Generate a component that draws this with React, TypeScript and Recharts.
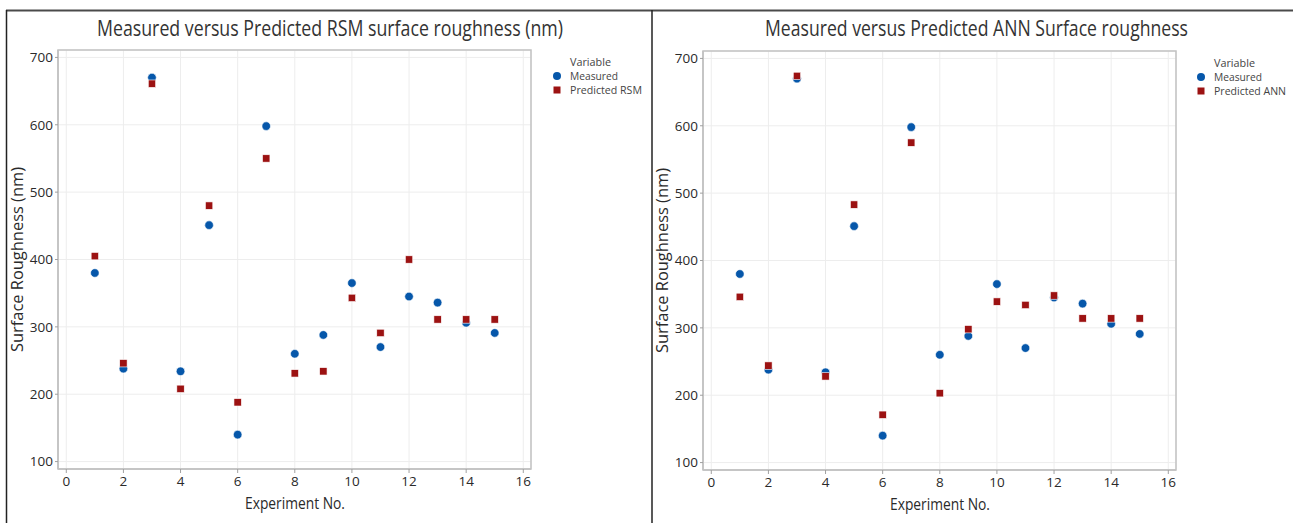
import React from 'react';
import {
  ScatterChart,
  Scatter,
  XAxis,
  YAxis,
  CartesianGrid,
  ReferenceArea,
  Legend,
  Label,
} from 'recharts';

const experiments = [1, 2, 3, 4, 5, 6, 7, 8, 9, 10, 11, 12, 13, 14, 15];
const measured = [380, 238, 670, 234, 451, 140, 598, 260, 288, 365, 270, 345, 336, 306, 291];
const predictedRSM = [405, 246, 661, 208, 480, 188, 550, 231, 234, 343, 291, 400, 311, 311, 311];
const predictedANN = [346, 244, 674, 228, 483, 171, 575, 203, 298, 339, 334, 348, 314, 314, 314];

const xTicks = [0, 2, 4, 6, 8, 10, 12, 14, 16];
const yTicks = [100, 200, 300, 400, 500, 600, 700];

const titleRSM = 'Measured versus Predicted RSM surface roughness (nm)';
const titleANN = 'Measured versus Predicted ANN Surface roughness';
const xTitle = 'Experiment No.';
const yTitle = 'Surface Roughness (nm)';

const FONT = "'Open Sans', 'Noto Sans', sans-serif";
const BLUE = '#0657AA';
const RED = '#9C1212';
const TEXT = '#2a2a2a';

const CircleShape = (props: any) => (
  <circle cx={props.cx} cy={props.cy} r={4.3} fill={BLUE} stroke="#ffffff" strokeWidth={0.6} />
);
const SquareShape = (props: any) => (
  <rect
    x={props.cx - 3.7}
    y={props.cy - 3.7}
    width={7.4}
    height={7.4}
    fill={RED}
    stroke="#ffffff"
    strokeWidth={0.6}
  />
);

const XTitle = () => (
  <text
    x={295}
    y={509}
    textAnchor="middle"
    fontFamily={FONT}
    fontSize={16}
    fill={TEXT}
    textLength={100}
    lengthAdjust="spacingAndGlyphs"
  >
    {xTitle}
  </text>
);

const YTitle = () => (
  <text
    x={0}
    y={0}
    transform="translate(23,259.5) rotate(-90)"
    textAnchor="middle"
    fontFamily={FONT}
    fontSize={16}
    fill={TEXT}
    textLength={185}
    lengthAdjust="spacingAndGlyphs"
  >
    {yTitle}
  </text>
);

function makeLegend(predLabel: string, predWidth: number) {
  return () => (
    <svg width={96} height={48} style={{ display: 'block' }}>
      <text x={22} y={14} fontFamily={FONT} fontSize={10.5} fill="#444" textLength={41} lengthAdjust="spacingAndGlyphs">
        Variable
      </text>
      <circle cx={9} cy={24} r={4} fill={BLUE} />
      <text x={22} y={28} fontFamily={FONT} fontSize={10.5} fill="#444" textLength={48} lengthAdjust="spacingAndGlyphs">
        Measured
      </text>
      <rect x={5.5} y={34.5} width={7} height={7} fill={RED} />
      <text x={22} y={42} fontFamily={FONT} fontSize={10.5} fill="#444" textLength={predWidth} lengthAdjust="spacingAndGlyphs">
        {predLabel}
      </text>
    </svg>
  );
}

function Panel({ predicted, predLabel, predWidth, legendLeft }: any) {
  const measuredData = experiments.map((x, i) => ({ x, y: measured[i] }));
  const predictedData = experiments.map((x, i) => ({ x, y: predicted[i] }));
  return (
    <ScatterChart width={645} height={523} margin={{ top: 50, right: 114, bottom: 14, left: 8 }}>
      <CartesianGrid stroke="#ededed" />
      <XAxis
        type="number"
        dataKey="x"
        domain={[-0.29, 16.27]}
        ticks={xTicks}
        interval={0}
        allowDataOverflow
        height={40}
        tickSize={4}
        tickMargin={3}
        tick={{ fill: TEXT, fontSize: 13.5, fontFamily: FONT }}
        axisLine={{ stroke: '#c2c2c2', strokeWidth: 1.5 }}
        tickLine={{ stroke: '#a0a0a0' }}
      >
        <Label content={XTitle} />
      </XAxis>
      <YAxis
        type="number"
        dataKey="y"
        domain={[89, 711]}
        ticks={yTicks}
        interval={0}
        allowDataOverflow
        width={50}
        tickSize={3}
        tickMargin={2}
        tick={{ fill: TEXT, fontSize: 13.5, fontFamily: FONT }}
        axisLine={{ stroke: '#c2c2c2', strokeWidth: 1.5 }}
        tickLine={{ stroke: '#a0a0a0' }}
      >
        <Label content={YTitle} />
      </YAxis>
      <ReferenceArea
        x1={-0.29}
        x2={16.27}
        y1={89}
        y2={711}
        fill="none"
        fillOpacity={0}
        stroke="#c2c2c2"
        strokeWidth={1.5}
      />
      <Legend
        layout="vertical"
        align="center"
        verticalAlign="middle"
        content={makeLegend(predLabel, predWidth)}
        wrapperStyle={{ position: 'absolute', left: legendLeft, top: 52, width: 96, height: 48 }}
      />
      <Scatter name="Measured" data={measuredData} shape={CircleShape} isAnimationActive={false} />
      <Scatter name={predLabel} data={predictedData} shape={SquareShape} isAnimationActive={false} />
    </ScatterChart>
  );
}

export default function App() {
  return (
    <div
      style={{
        position: 'absolute',
        left: 0,
        top: 0,
        width: 1293,
        height: 523,
        background: '#ffffff',
        overflow: 'hidden',
      }}
    >
      <div style={{ position: 'absolute', left: 0, top: 0 }}>
        <Panel predicted={predictedRSM} predLabel="Predicted RSM" predWidth={72} legendLeft={548} />
      </div>
      <div style={{ position: 'absolute', left: 645, top: 1 }}>
        <Panel predicted={predictedANN} predLabel="Predicted ANN" predWidth={72} legendLeft={547} />
      </div>
      <svg
        width={1293}
        height={523}
        style={{ position: 'absolute', left: 0, top: 0, pointerEvents: 'none' }}
      >
        <line x1={6} y1={10.5} x2={1293} y2={10.5} stroke="#4a4a4a" strokeWidth={2} />
        <line x1={6.5} y1={10} x2={6.5} y2={523} stroke="#222" strokeWidth={1.5} />
        <line x1={652} y1={10} x2={652} y2={523} stroke="#222" strokeWidth={1.5} />
        <text
          x={330}
          y={36}
          textAnchor="middle"
          fontFamily={FONT}
          fontSize={21}
          fill="#333"
          textLength={466}
          lengthAdjust="spacingAndGlyphs"
        >
          {titleRSM}
        </text>
        <text
          x={976.5}
          y={36}
          textAnchor="middle"
          fontFamily={FONT}
          fontSize={21}
          fill="#333"
          textLength={423}
          lengthAdjust="spacingAndGlyphs"
        >
          {titleANN}
        </text>
      </svg>
    </div>
  );
}
